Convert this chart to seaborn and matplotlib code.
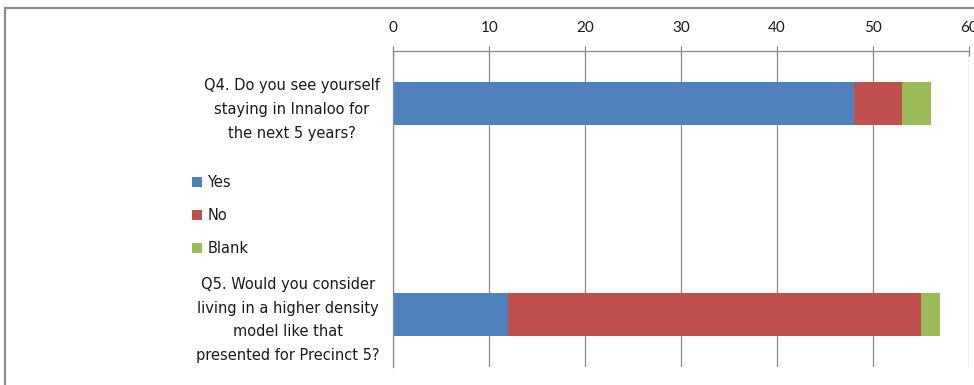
import matplotlib
matplotlib.use("Agg")
import matplotlib.pyplot as plt
from matplotlib.patches import Patch, Rectangle
import seaborn as sns
import pandas as pd

# ---- data ----
categories = ["Q4", "Q5"]
category_labels = [
    "Q4. Do you see yourself\nstaying in Innaloo for\nthe next 5 years?",
    "Q5. Would you consider\nliving in a higher density\nmodel like that\npresented for Precinct 5?",
]
yes = [48, 12]
no = [5, 43]
blank = [3, 2]
series_names = ["Yes", "No", "Blank"]
x_ticks = [0, 10, 20, 30, 40, 50, 60]

colors = {"Yes": "#4F81BD", "No": "#C0504D", "Blank": "#9BBB59"}
grid_col = "#8a8a8a"

sns.set_style("white")
plt.rcParams["font.family"] = ["DejaVu Sans"]

df = pd.DataFrame({"question": categories, "Yes": yes, "No": no, "Blank": blank})
df["cum_yes"] = df["Yes"]
df["cum_no"] = df["Yes"] + df["No"]
df["cum_blank"] = df["Yes"] + df["No"] + df["Blank"]
order = ["Q4", "gap", "Q5"]

W, H = 974, 385
fig = plt.figure(figsize=(W / 100, H / 100), dpi=100)
ax = fig.add_axes([393.3 / W, 1 - 366.7 / H, (969 - 393.3) / W, (366.7 - 51) / H])

for col, name in [("cum_blank", "Blank"), ("cum_no", "No"), ("cum_yes", "Yes")]:
    sns.barplot(data=df, y="question", x=col, order=order, orient="h",
                color=colors[name], saturation=1, width=0.41, errorbar=None,
                linewidth=0, ax=ax)

ax.set_xlim(0, 60)
ax.set_ylim(2.5, -0.5)
ax.set_xlabel("")
ax.set_ylabel("")

# x axis on top
ax.xaxis.tick_top()
ax.set_xticks(x_ticks)
ax.set_xticklabels([str(t) for t in x_ticks], fontsize=11, color="#1a1a1a",
                   family=["Lato", "DejaVu Sans"])
ax.tick_params(axis="x", which="major", direction="inout", length=7, width=0.9,
               color=grid_col, pad=8)
ax.xaxis.grid(True, color=grid_col, linewidth=0.9)
ax.set_axisbelow(True)

# y axis labels and boundary ticks
ax.set_yticks([0, 1, 2])
ax.set_yticklabels([category_labels[0], "", category_labels[1]], fontsize=10.5,
                   color="#1a1a1a", linespacing=1.72, multialignment="center")
ax.tick_params(axis="y", which="major", length=0, pad=10)
ax.set_yticks([-0.5, 0.5, 1.5, 2.5], minor=True)
ax.tick_params(axis="y", which="minor", direction="out", length=4.5, width=0.9,
               color=grid_col)

for s in ["right", "bottom"]:
    ax.spines[s].set_visible(False)
for s in ["top", "left"]:
    ax.spines[s].set_color(grid_col)
    ax.spines[s].set_linewidth(0.9)

# legend
handles = [Patch(facecolor=colors[n], edgecolor="none", label=n) for n in series_names]
leg = fig.legend(handles=handles, loc="upper left", bbox_to_anchor=(192 / W, 1 - 175 / H),
                 frameon=False, fontsize=10.5, handlelength=0.7, handleheight=0.7,
                 handletextpad=0.35, labelspacing=1.25, borderpad=0, borderaxespad=0)
for t in leg.get_texts():
    t.set_color("#1a1a1a")

# chart border
fig.patches.append(Rectangle((5 / W, -0.1), 1.2, 0.1 + (1 - 8 / H),
                             transform=fig.transFigure, fill=False,
                             edgecolor="#8c8c8c", linewidth=1.6))

fig.savefig("out.png", dpi=100)
